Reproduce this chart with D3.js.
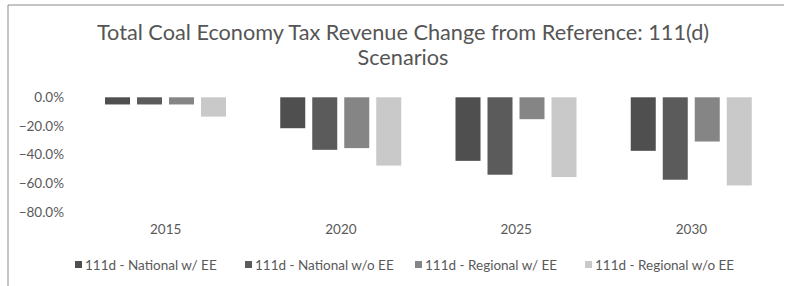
<!DOCTYPE html>
<html>
<head>
<meta charset="utf-8">
<script src="https://cdn.jsdelivr.net/npm/d3@7"></script>
<style>
  body { margin: 0; background: #fff; }
  text { font-family: Lato, "Open Sans", sans-serif; }
</style>
</head>
<body>
<script>
// data
const years = ['2015', '2020', '2025', '2030'];
const seriesNames = ['111d - National w/ EE', '111d - National w/o EE', '111d - Regional w/ EE', '111d - Regional w/o EE'];
const nationalWithEE = [-5.0, -21.6, -44.4, -37.4];
const nationalNoEE = [-5.0, -36.7, -54.1, -57.6];
const regionalWithEE = [-5.0, -35.5, -15.3, -30.9];
const regionalNoEE = [-13.5, -47.7, -55.7, -61.6];
const yTicks = [0, -20, -40, -60, -80];
const colors = ['#4f4f4f', '#5b5b5b', '#858585', '#c9c9c9'];

const series = [nationalWithEE, nationalNoEE, regionalWithEE, regionalNoEE];

const W = 785, H = 286;
const svg = d3.select('body').append('svg').attr('width', W).attr('height', H);

// frame (only top and left edges show in the scan)
svg.append('line').attr('x1', 8).attr('y1', 5).attr('x2', 784).attr('y2', 5)
  .style('stroke', '#8a8a8a').style('stroke-width', 1);
svg.append('line').attr('x1', 8).attr('y1', 5).attr('x2', 8).attr('y2', H)
  .style('stroke', '#8a8a8a').style('stroke-width', 1);

// title
const title = svg.append('text').attr('text-anchor', 'middle')
  .style('font-size', '21.7px').style('fill', '#555');
title.append('tspan').attr('x', 403).attr('y', 40).text('Total Coal Economy Tax Revenue Change from Reference: 111(d)');
title.append('tspan').attr('x', 403).attr('y', 65).text('Scenarios');

const x0 = d3.scaleBand().domain(years).range([78, 779]).padding(0);
const x1 = d3.scaleBand().domain(d3.range(4)).range([27, 148]).paddingInner(7 / 32).paddingOuter(0);
const y = d3.scaleLinear().domain([-80, 0]).range([211.8, 97.3]);

// y axis labels
const yAxis = d3.axisLeft(y).tickValues(yTicks).tickSize(0).tickPadding(0)
  .tickFormat(d => d3.format('.1f')(d) + '%');
const ya = svg.append('g').attr('transform', 'translate(64,0)').call(yAxis);
ya.select('.domain').remove();
ya.selectAll('text').style('font-size', '13.5px').style('fill', '#595959')
  .style('font-family', 'Lato, sans-serif');

// bars
const groups = svg.selectAll('g.year').data(years).enter().append('g')
  .attr('class', 'year')
  .attr('transform', d => `translate(${x0(d)},0)`);

groups.selectAll('rect').data((d, i) => series.map((s, k) => ({ k: k, v: s[i] })))
  .enter().append('rect')
  .attr('x', d => x1(d.k))
  .attr('y', y(0))
  .attr('width', x1.bandwidth())
  .attr('height', d => y(d.v) - y(0))
  .style('fill', d => colors[d.k]);

// category labels
const xAxis = d3.axisBottom(x0).tickSize(0).tickPadding(0);
const xa = svg.append('g').attr('transform', 'translate(0,224)').call(xAxis);
xa.select('.domain').remove();
xa.selectAll('text').style('font-size', '13.5px').style('fill', '#595959')
  .style('font-family', 'Lato, sans-serif');

// legend
const legendX = d3.scaleBand().domain(d3.range(4)).range([75, 755]);
const leg = svg.selectAll('g.leg').data(seriesNames).enter().append('g')
  .attr('class', 'leg')
  .attr('transform', (d, i) => `translate(${legendX(i)},265)`);
leg.append('rect').attr('x', 0).attr('y', -4).attr('width', 7).attr('height', 7)
  .style('fill', (d, i) => colors[i]);
leg.append('text').attr('x', 10).attr('y', 4.5).text(d => d)
  .style('font-size', '13.5px').style('fill', '#595959');
</script>
</body>
</html>
